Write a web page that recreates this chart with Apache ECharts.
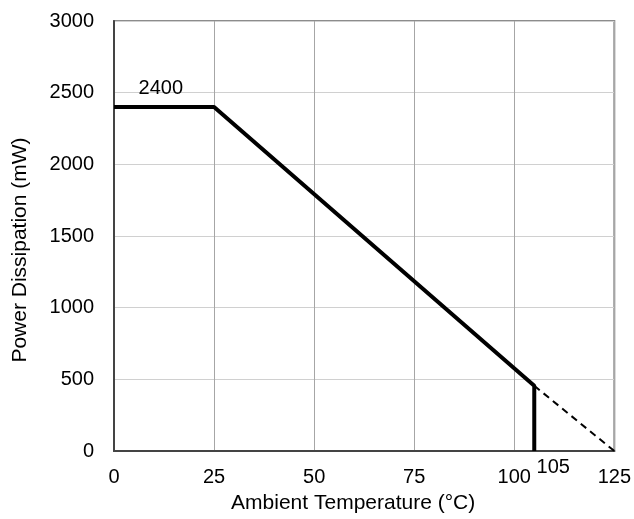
<!DOCTYPE html>
<html>
<head>
<meta charset="utf-8">
<script src="https://cdn.jsdelivr.net/npm/echarts@6/dist/echarts.min.js"></script>
<style>
  html, body { margin: 0; padding: 0; background: #fff; }
  #chart { width: 634px; height: 519px; }
</style>
</head>
<body>
<div id="chart"></div>
<script>
// derating curve
const derating = [[0, 2400], [25, 2400], [105, 455], [105, 0]]
const extension = [[105, 455], [125, 0]]
const xTicks = [0, 25, 50, 75, 100, 125]
const yTicks = [0, 500, 1000, 1500, 2000, 2500, 3000]

const font = 'Liberation Sans, Arial, sans-serif'
const chart = echarts.init(document.getElementById('chart'))
chart.setOption({
  animation: false,
  grid: { left: 114, right: 19, top: 21, bottom: 66, show: true, borderColor: '#8c8c8c', borderWidth: 2 },
  xAxis: {
    type: 'value',
    min: xTicks[0],
    max: xTicks[xTicks.length - 1],
    interval: 25,
    name: 'Ambient Temperature (°C)',
    nameLocation: 'middle',
    nameGap: 42,
    nameTextStyle: { color: '#000', fontSize: 21, fontFamily: font, padding: [0, 22, 0, 0] },
    axisLine: { lineStyle: { color: '#444', width: 2 } },
    axisTick: { show: false },
    axisLabel: { color: '#000', fontSize: 20, fontFamily: font, margin: 16, formatter: v => String(v) },
    splitLine: { lineStyle: { color: '#a6a6a6', width: 1 } }
  },
  yAxis: {
    type: 'value',
    min: yTicks[0],
    max: yTicks[yTicks.length - 1],
    interval: 500,
    name: 'Power Dissipation (mW)',
    nameLocation: 'middle',
    nameGap: 83,
    nameTextStyle: { color: '#000', fontSize: 21, fontFamily: font, padding: [0, 28, 0, 0] },
    axisLine: { show: true, lineStyle: { color: '#444', width: 2 } },
    axisTick: { show: false },
    axisLabel: { color: '#000', fontSize: 20, fontFamily: font, margin: 20, formatter: v => String(v) },
    splitLine: { lineStyle: { color: '#d0d0d0', width: 1 } }
  },
  series: [
    {
      type: 'line',
      data: derating,
      showSymbol: false,
      lineStyle: { color: '#000', width: 4 },
      markPoint: {
        symbolSize: 0,
        label: { show: true, color: '#000', fontSize: 20, fontFamily: font },
        data: [
          { coord: [11.7, 2400], value: '2400', label: { position: 'top', distance: 9, formatter: '2400' } },
          { coord: [105, 0], value: '105', label: { position: 'inside', offset: [19, 16], formatter: '105' } }
        ]
      }
    },
    {
      type: 'line',
      data: extension,
      showSymbol: false,
      lineStyle: { color: '#000', width: 2, type: [7, 5] }
    }
  ]
})
</script>
</body>
</html>
